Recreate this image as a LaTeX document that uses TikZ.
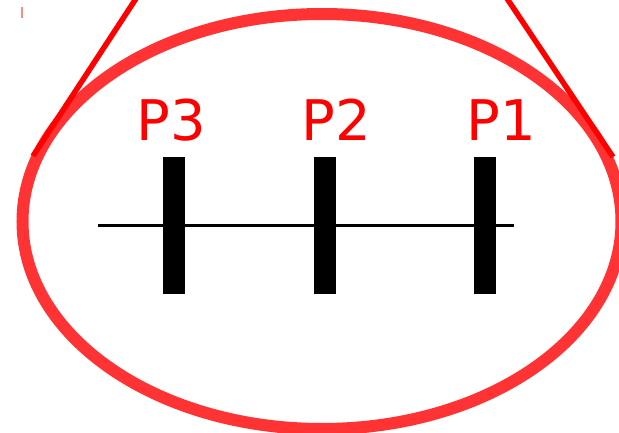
\documentclass[tikz,border=0pt]{standalone}
\usepackage{fontspec}
\setmainfont{DejaVu Sans}
\definecolor{ellred}{HTML}{FF3333}
\definecolor{linered}{HTML}{FF0000}
\definecolor{markred}{HTML}{FF8888}
\tikzset{
  barbox/.style={fill=black, draw=none, minimum width=22pt, minimum height=137pt, inner sep=0pt},
  plabel/.style={text=linered, font=\fontsize{56}{60}\selectfont, inner sep=0pt, anchor=base west},
  ringline/.style={draw=ellred, line width=12pt},
  rayline/.style={draw=linered, line width=5.5pt},
  axisline/.style={draw=black, line width=3pt}
}
\begin{document}
\begin{tikzpicture}[x=1pt,y=-1pt]
\useasboundingbox (0,0) rectangle (619,433);
\clip (0,0) rectangle (619,433);
\fill[white] (0,0) rectangle (619,433);
% ellipse
\draw[ringline] (322,221.5) ellipse [x radius=299.5, y radius=207.5];
% rays
\coordinate (lbot) at (33,156);
\coordinate (ltop) at (139,-6);
\coordinate (rtop) at (504,-6);
\coordinate (rbot) at (613,157);
\draw[rayline] (lbot) -- (ltop);
\draw[rayline] (rtop) -- (rbot);
% small mark
\coordinate (ma) at (22,7);
\coordinate (mb) at (22,18);
\draw[draw=markred, line width=1.3pt] (ma) -- (mb);
% axis
\coordinate (axl) at (98,225.5);
\coordinate (axr) at (514,225.5);
\draw[axisline] (axl) -- (axr);
% bars
\node[barbox] (b3) at (174,225.5) {};
\node[barbox] (b2) at (325,225.5) {};
\node[barbox] (b1) at (485,225.5) {};
% labels
\node[plabel] (p3) at (136.5,141) {P3};
\node[plabel] (p2) at (301.5,141) {P2};
\node[plabel] (p1) at (466.5,141) {P1};
\end{tikzpicture}
\end{document}
